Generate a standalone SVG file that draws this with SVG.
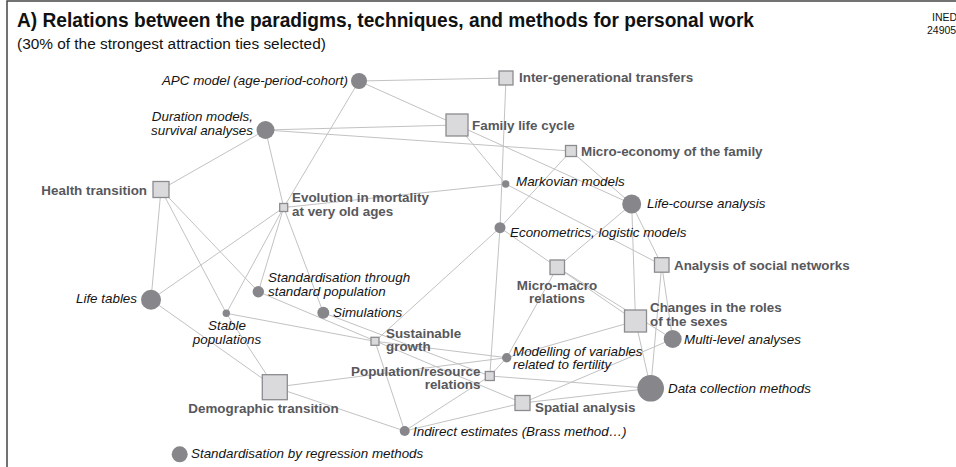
<svg xmlns="http://www.w3.org/2000/svg" width="956" height="467" viewBox="0 0 956 467">
<style>
.e{stroke:#c2c2c4;stroke-width:1;fill:none}
.c{fill:#87878b}
.s{fill:#dadadc;stroke:#8c8c90;stroke-width:1.3}
.lb{font-family:"Liberation Sans",Arial,sans-serif;font-weight:bold;font-size:13.4px;fill:#58585c}
.li{font-family:"Liberation Sans",Arial,sans-serif;font-style:italic;font-size:13.4px;fill:#141414}
.t{font-family:"Liberation Sans",Arial,sans-serif;fill:#111}
</style>
<rect x="0" y="0" width="956" height="467" fill="#fff"/>
<rect x="7" y="1" width="980" height="490" fill="none" stroke="#444" stroke-width="1.5"/>
<text class="t" x="17" y="27" font-size="20" font-weight="bold" textLength="737" lengthAdjust="spacingAndGlyphs">A) Relations between the paradigms, techniques, and methods for personal work</text>
<text class="t" x="17" y="49" font-size="15.4">(30% of the strongest attraction ties selected)</text>
<text class="t" x="932" y="21" font-size="10.5">INED</text>
<text class="t" x="927" y="34" font-size="10.5">24905</text>
<g id="connectors">
<line class="e" x1="359" y1="81" x2="506" y2="78"/>
<line class="e" x1="359" y1="81" x2="457" y2="125"/>
<line class="e" x1="359" y1="81" x2="283.7" y2="207.5"/>
<line class="e" x1="265.5" y1="130" x2="457" y2="125"/>
<line class="e" x1="265.5" y1="130" x2="571" y2="151"/>
<line class="e" x1="265.5" y1="130" x2="161" y2="189.5"/>
<line class="e" x1="265.5" y1="130" x2="283.7" y2="207.5"/>
<line class="e" x1="457" y1="125" x2="505.7" y2="184"/>
<line class="e" x1="457" y1="125" x2="631.7" y2="204"/>
<line class="e" x1="506" y1="78" x2="500" y2="227.7"/>
<line class="e" x1="500" y1="227.7" x2="489.8" y2="376"/>
<line class="e" x1="571" y1="151" x2="500" y2="227.7"/>
<line class="e" x1="571" y1="151" x2="631.7" y2="204"/>
<line class="e" x1="505.7" y1="184" x2="283.7" y2="207.5"/>
<line class="e" x1="505.7" y1="184" x2="661.7" y2="265"/>
<line class="e" x1="631.7" y1="204" x2="557.3" y2="267.3"/>
<line class="e" x1="631.7" y1="204" x2="635.5" y2="321"/>
<line class="e" x1="631.7" y1="204" x2="661.7" y2="265"/>
<line class="e" x1="500" y1="227.7" x2="557.3" y2="267.3"/>
<line class="e" x1="500" y1="227.7" x2="375" y2="341.3"/>
<line class="e" x1="557.3" y1="267.3" x2="635.5" y2="321"/>
<line class="e" x1="557.3" y1="267.3" x2="672.7" y2="339"/>
<line class="e" x1="557.3" y1="267.3" x2="506.7" y2="357.7"/>
<line class="e" x1="661.7" y1="265" x2="650.7" y2="388.3"/>
<line class="e" x1="661.7" y1="265" x2="672.7" y2="339"/>
<line class="e" x1="635.5" y1="321" x2="650.7" y2="388.3"/>
<line class="e" x1="635.5" y1="321" x2="506.7" y2="357.7"/>
<line class="e" x1="506.7" y1="357.7" x2="489.8" y2="376"/>
<line class="e" x1="375" y1="341.3" x2="506.7" y2="357.7"/>
<line class="e" x1="274.8" y1="387.2" x2="506.7" y2="357.7"/>
<line class="e" x1="161" y1="189.5" x2="151" y2="299.7"/>
<line class="e" x1="161" y1="189.5" x2="226.3" y2="313.3"/>
<line class="e" x1="161" y1="189.5" x2="258.3" y2="291.7"/>
<line class="e" x1="283.7" y1="207.5" x2="151" y2="299.7"/>
<line class="e" x1="283.7" y1="207.5" x2="226.3" y2="313.3"/>
<line class="e" x1="283.7" y1="207.5" x2="258.3" y2="291.7"/>
<line class="e" x1="283.7" y1="207.5" x2="323.3" y2="312.7"/>
<line class="e" x1="151" y1="299.7" x2="274.8" y2="387.2"/>
<line class="e" x1="226.3" y1="313.3" x2="274.8" y2="387.2"/>
<line class="e" x1="274.8" y1="387.2" x2="404.7" y2="431"/>
<line class="e" x1="404.7" y1="431" x2="522.5" y2="403"/>
<line class="e" x1="404.7" y1="431" x2="489.8" y2="376"/>
<line class="e" x1="375" y1="341.3" x2="404.7" y2="431"/>
<line class="e" x1="522.5" y1="403" x2="650.7" y2="388.3"/>
<line class="e" x1="522.5" y1="403" x2="672.7" y2="339"/>
<line class="e" x1="489.8" y1="376" x2="650.7" y2="388.3"/>
<line class="e" x1="226.3" y1="313.3" x2="375" y2="341.3"/>
<line class="e" x1="258.3" y1="291.7" x2="522.5" y2="403"/>
<line class="e" x1="323.3" y1="312.7" x2="489.8" y2="376"/>
</g>
<g id="n-apc"><circle class="c" cx="359" cy="81" r="8"/><text class="li" x="348" y="85" text-anchor="end">APC model (age-period-cohort)</text></g>
<g id="n-igt"><rect class="s" x="499" y="71" width="14" height="14"/><text class="lb" x="519" y="82">Inter-generational transfers</text></g>
<g id="n-dur"><circle class="c" cx="265.5" cy="130" r="9"/><text class="li" x="253" y="121" text-anchor="end">Duration models,</text><text class="li" x="253" y="135" text-anchor="end">survival analyses</text></g>
<g id="n-flc"><rect class="s" x="446" y="114" width="22" height="22"/><text class="lb" x="472" y="130">Family life cycle</text></g>
<g id="n-mef"><rect class="s" x="565.5" y="145.5" width="11" height="11"/><text class="lb" x="581" y="156">Micro-economy of the family</text></g>
<g id="n-ht"><rect class="s" x="153" y="181.5" width="16" height="16"/><text class="lb" x="147" y="195" text-anchor="end">Health transition</text></g>
<g id="n-evo"><rect class="s" x="279.7" y="203.5" width="8" height="8"/><text class="lb" x="292" y="202">Evolution in mortality</text><text class="lb" x="292" y="216">at very old ages</text></g>
<g id="n-mrk"><circle class="c" cx="505.7" cy="184" r="3.7"/><text class="li" x="516" y="186">Markovian models</text></g>
<g id="n-lca"><circle class="c" cx="631.7" cy="204" r="9.5"/><text class="li" x="647" y="208">Life-course analysis</text></g>
<g id="n-eco"><circle class="c" cx="500" cy="227.7" r="5.5"/><text class="li" x="510" y="237">Econometrics, logistic models</text></g>
<g id="n-mmr"><rect class="s" x="550" y="260" width="14.5" height="14.5"/><text class="lb" x="557" y="290" text-anchor="middle">Micro-macro</text><text class="lb" x="557" y="303" text-anchor="middle">relations</text></g>
<g id="n-asn"><rect class="s" x="654.5" y="257.7" width="14.5" height="14.5"/><text class="lb" x="674" y="270">Analysis of social networks</text></g>
<g id="n-std"><circle class="c" cx="258.3" cy="291.7" r="5.7"/><text class="li" x="268" y="282">Standardisation through</text><text class="li" x="268" y="296">standard population</text></g>
<g id="n-lt"><circle class="c" cx="151" cy="299.7" r="10"/><text class="li" x="137" y="303" text-anchor="end">Life tables</text></g>
<g id="n-stb"><circle class="c" cx="226.3" cy="313.3" r="3.7"/><text class="li" x="227" y="330" text-anchor="middle">Stable</text><text class="li" x="227" y="344" text-anchor="middle">populations</text></g>
<g id="n-sim"><circle class="c" cx="323.3" cy="312.7" r="6"/><text class="li" x="333" y="317">Simulations</text></g>
<g id="n-sus"><rect class="s" x="371" y="337.3" width="8" height="8"/><text class="lb" x="386" y="338">Sustainable</text><text class="lb" x="386" y="351">growth</text></g>
<g id="n-crs"><rect class="s" x="624.5" y="310" width="22" height="22"/><text class="lb" x="650" y="312">Changes in the roles</text><text class="lb" x="650" y="326">of the sexes</text></g>
<g id="n-mla"><circle class="c" cx="672.7" cy="339" r="9"/><text class="li" x="684" y="344">Multi-level analyses</text></g>
<g id="n-mod"><circle class="c" cx="506.7" cy="357.7" r="4.7"/><text class="li" x="513" y="356">Modelling of variables</text><text class="li" x="513" y="369">related to fertility</text></g>
<g id="n-pop"><rect class="s" x="485.3" y="371.5" width="9" height="9"/><text class="lb" x="480.5" y="376" text-anchor="end">Population/resource</text><text class="lb" x="480.5" y="389" text-anchor="end">relations</text></g>
<g id="n-dem"><rect class="s" x="262.3" y="374.7" width="25" height="25"/><text class="lb" x="263.5" y="413" text-anchor="middle">Demographic transition</text></g>
<g id="n-dcm"><circle class="c" cx="650.7" cy="388.3" r="13.3"/><text class="li" x="668" y="393">Data collection methods</text></g>
<g id="n-spa"><rect class="s" x="515" y="395.5" width="15" height="15"/><text class="lb" x="535" y="412">Spatial analysis</text></g>
<g id="n-ind"><circle class="c" cx="404.7" cy="431" r="5"/><text class="li" x="413" y="436">Indirect estimates (Brass method…)</text></g>
<g id="n-sbr"><circle class="c" cx="179.7" cy="454.3" r="8"/><text class="li" x="191" y="458">Standardisation by regression methods</text></g>
</svg>
